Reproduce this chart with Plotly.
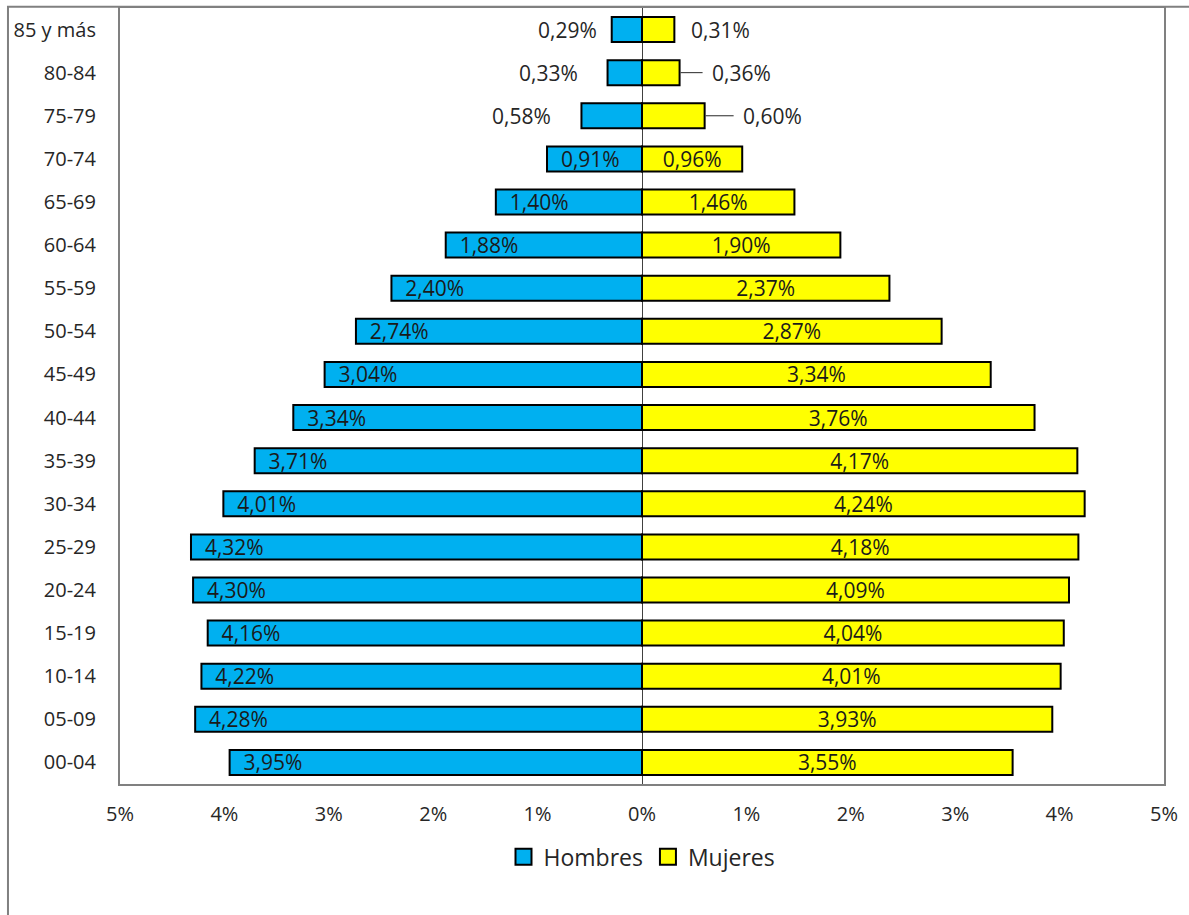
import plotly.graph_objects as go

# Pirámide de población por grupos de edad (%)
grupos = ["00-04", "05-09", "10-14", "15-19", "20-24", "25-29", "30-34", "35-39",
          "40-44", "45-49", "50-54", "55-59", "60-64", "65-69", "70-74", "75-79",
          "80-84", "85 y más"]
hombres = [3.95, 4.28, 4.22, 4.16, 4.30, 4.32, 4.01, 3.71, 3.34, 3.04, 2.74, 2.40,
           1.88, 1.40, 0.91, 0.58, 0.33, 0.29]
mujeres = [3.55, 3.93, 4.01, 4.04, 4.09, 4.18, 4.24, 4.17, 3.76, 3.34, 2.87, 2.37,
           1.90, 1.46, 0.96, 0.60, 0.36, 0.31]
ticks = [-5, -4, -3, -2, -1, 0, 1, 2, 3, 4, 5]

N_FUERA = 3  # los tres grupos de más edad llevan la etiqueta fuera de la barra
FONT = "Open Sans"
GRIS = "#808080"
TXT = "#262626"
AZUL = "#00B0F0"
AMARILLO = "#FFFF00"
TAM_ETQ = 21


def fmt(v):
    return f"{v:.2f}".replace(".", ",") + "%"


n = len(grupos)
txt_h = ["\u00a0\u00a0" + fmt(v) if i < n - N_FUERA else "" for i, v in enumerate(hombres)]
txt_m = [fmt(v) if i < n - N_FUERA else "" for i, v in enumerate(mujeres)]

fig = go.Figure()
fig.add_trace(go.Bar(
    y=grupos, x=[-v for v in hombres], orientation="h", name="Hombres", showlegend=False,
    marker=dict(color=AZUL, line=dict(color="black", width=2)),
    text=txt_h, textposition="inside", insidetextanchor="end", constraintext="none",
    textfont=dict(family=FONT, size=TAM_ETQ, color="#1a1a1a"),
))
fig.add_trace(go.Bar(
    y=grupos, x=mujeres, orientation="h", name="Mujeres", showlegend=False,
    marker=dict(color=AMARILLO, line=dict(color="black", width=2)),
    text=txt_m, textposition="inside", insidetextanchor="middle", constraintext="none",
    textfont=dict(family=FONT, size=TAM_ETQ, color="#1a1a1a"),
))

# leyenda con cuadrados más grandes
for nombre, color in [("Hombres", AZUL), ("Mujeres", AMARILLO)]:
    fig.add_trace(go.Scatter(
        x=[None], y=[None], mode="markers", name=nombre,
        marker=dict(symbol="square", size=16, color=color, line=dict(color="black", width=2)),
    ))

# etiquetas exteriores de los grupos de más edad
desp_h = [28, 28, 13]
desp_m = [36, 30, 15]
guia = [True, True, False]
for k, i in enumerate(range(n - N_FUERA, n)):
    fig.add_annotation(x=-hombres[i], y=grupos[i], text=fmt(hombres[i]), showarrow=False,
                       xanchor="right", xshift=-desp_h[k],
                       font=dict(family=FONT, size=TAM_ETQ, color=TXT))
    fig.add_annotation(x=mujeres[i], y=grupos[i], text=fmt(mujeres[i]), showarrow=False,
                       xanchor="left", xshift=desp_m[k],
                       font=dict(family=FONT, size=TAM_ETQ, color=TXT))
    if guia[k]:
        fig.add_shape(type="line", xref="x", yref="y", xsizemode="pixel",
                      xanchor=mujeres[i], x0=1, x1=desp_m[k] - 7, y0=i, y1=i,
                      line=dict(color=TXT, width=1))

# borde del gráfico
fig.add_shape(type="rect", xref="paper", yref="paper", x0=-0.1073, x1=1.3, y0=-0.4, y1=1.0015,
              line=dict(color=GRIS, width=2), layer="below")

fig.update_layout(
    width=1189, height=915,
    margin=dict(l=120, r=25, t=6, b=131),
    paper_bgcolor="white", plot_bgcolor="white",
    barmode="relative", bargap=0.42,
    font=dict(family=FONT, size=20, color=TXT),
    showlegend=True,
    legend=dict(orientation="h", x=0.5, xanchor="center", y=-0.066, yanchor="top",
                font=dict(family=FONT, size=23, color=TXT), traceorder="normal",
                itemwidth=30),
)
fig.update_xaxes(
    range=[-5, 5], tickvals=ticks, ticktext=[f"{abs(t)}%" for t in ticks],
    showgrid=False, zeroline=True, zerolinecolor="#404040", zerolinewidth=1,
    showline=True, mirror=True, linecolor=GRIS, linewidth=2,
    ticks="", ticklabelstandoff=11, tickfont=dict(size=20),
)
fig.update_yaxes(
    type="category", categoryorder="array", categoryarray=grupos,
    showgrid=False, showline=True, mirror=True, linecolor=GRIS, linewidth=2,
    ticks="", ticklabelstandoff=18, tickfont=dict(size=20),
)

fig.write_html("out.html", config={"displayModeBar": False},
               post_script="document.body.style.margin='0';")
